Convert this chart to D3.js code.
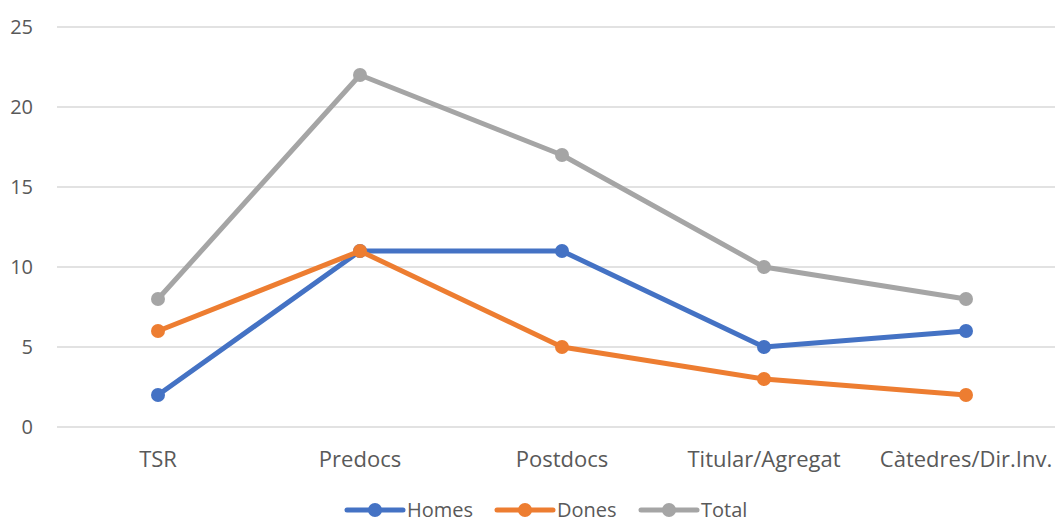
<!DOCTYPE html>
<html>
<head>
<meta charset="utf-8">
<script src="https://cdn.jsdelivr.net/npm/d3@7"></script>
<style>
  body { margin: 0; background: #fff; }
  text { font-family: "Open Sans", "Noto Sans", sans-serif; fill: #595959; }
</style>
</head>
<body>
<svg id="chart" width="1055" height="524"></svg>
<script>
var categories = ["TSR", "Predocs", "Postdocs", "Titular/Agregat", "Càtedres/Dir.Inv."];
var homes = [2, 11, 11, 5, 6];
var dones = [6, 11, 5, 3, 2];
var total = [8, 22, 17, 10, 8];
var yTicks = [0, 5, 10, 15, 20, 25];

var series = [
  { name: "Homes", values: homes, color: "#4472c4" },
  { name: "Dones", values: dones, color: "#ed7d31" },
  { name: "Total", values: total, color: "#a5a5a5" }
];

var svg = d3.select("#chart");

// plot area runs off the right edge, like the original
var xScale = d3.scaleBand()
  .domain(categories)
  .range([57, 1067]);

var yScale = d3.scaleLinear()
  .domain([0, 25])
  .range([427, 27]);

// gridlines
svg.append("g")
  .selectAll("line")
  .data(yTicks)
  .enter().append("line")
  .attr("x1", 57)
  .attr("x2", 1067)
  .attr("y1", function(d) { return yScale(d); })
  .attr("y2", function(d) { return yScale(d); })
  .attr("stroke", "#d9d9d9")
  .attr("stroke-width", 1.5);

// y labels
var yAxis = d3.axisLeft(yScale).tickValues(yTicks).tickSize(0).tickPadding(0);
svg.append("g")
  .attr("transform", "translate(33,0)")
  .call(yAxis)
  .call(function(g) { g.select(".domain").remove(); })
  .selectAll("text")
  .attr("font-size", "20px")
  .attr("font-family", "'Open Sans', sans-serif")
  .attr("fill", "#595959");

// x labels
var xAxis = d3.axisBottom(xScale).tickSize(0).tickPadding(0);
svg.append("g")
  .attr("transform", "translate(0,451)")
  .call(xAxis)
  .call(function(g) { g.select(".domain").remove(); })
  .selectAll("text")
  .attr("font-size", "22px")
  .attr("font-family", "'Open Sans', sans-serif")
  .attr("fill", "#595959");

var line = d3.line()
  .x(function(d, i) { return xScale(categories[i]) + xScale.bandwidth() / 2; })
  .y(function(d) { return yScale(d); });

series.forEach(function(s) {
  var g = svg.append("g");
  g.append("path")
    .attr("d", line(s.values))
    .attr("fill", "none")
    .attr("stroke", s.color)
    .attr("stroke-width", 5)
    .attr("stroke-linejoin", "round")
    .attr("stroke-linecap", "round");
  g.selectAll("circle")
    .data(s.values)
    .enter().append("circle")
    .attr("cx", function(d, i) { return xScale(categories[i]) + xScale.bandwidth() / 2; })
    .attr("cy", function(d) { return yScale(d); })
    .attr("r", 7)
    .attr("fill", s.color);
});

// legend (kept just inside the bottom edge)
var legendX = [347, 497, 641];
var legend = svg.append("g");
series.forEach(function(s, i) {
  var lg = legend.append("g").attr("transform", "translate(" + legendX[i] + ",510)");
  lg.append("line")
    .attr("x1", 0).attr("x2", 56)
    .attr("y1", 0).attr("y2", 0)
    .attr("stroke", s.color)
    .attr("stroke-width", 5)
    .attr("stroke-linecap", "round");
  lg.append("circle")
    .attr("cx", 28).attr("cy", 0).attr("r", 7)
    .attr("fill", s.color);
  lg.append("text")
    .attr("x", 60).attr("y", 0)
    .attr("dy", "0.35em")
    .attr("font-size", "20px")
    .text(s.name);
});
</script>
</body>
</html>
